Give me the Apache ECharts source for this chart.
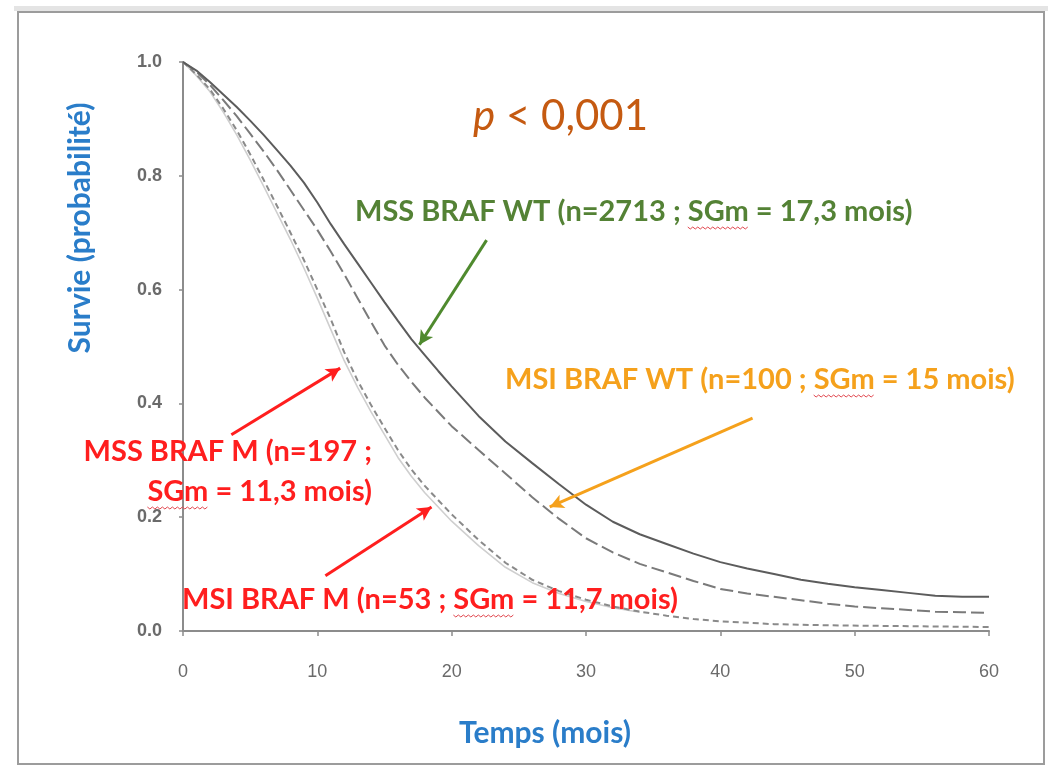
<!DOCTYPE html>
<html><head><meta charset="utf-8">
<script src="https://cdn.jsdelivr.net/npm/echarts@6/dist/echarts.min.js"></script>
<style>html,body{margin:0;padding:0;background:#fff}#c{width:1053px;height:769px}</style>
</head><body><div id="c"></div>
<script>
// ---- data ----
const xTicks = [0, 10, 20, 30, 40, 50, 60];
const yTicks = [0.0, 0.2, 0.4, 0.6, 0.8, 1.0];

const mssWtMonths = [0,1,2,3,4,5,6,7,8,9,10,11,12,13,14,15,16,17,18,19,20,22,24,26,28,30,32,34,36,38,40,42,44,46,48,50,52,54,56,58,60];
const mssWtSurv   = [1.0,0.985,0.965,0.943,0.921,0.897,0.872,0.845,0.818,0.788,0.753,0.715,0.68,0.646,0.612,0.578,0.545,0.513,0.485,0.457,0.43,0.378,0.333,0.295,0.258,0.222,0.192,0.17,0.153,0.136,0.121,0.11,0.1,0.09,0.083,0.077,0.072,0.067,0.062,0.06,0.06];

const msiWtMonths = [0,1,2,3,4,5,6,7,8,9,10,11,12,13,14,15,16,17,18,20,22,24,26,28,30,32,34,36,38,40,42,44,46,48,50,52,54,56,58,60];
const msiWtSurv   = [1.0,0.983,0.96,0.933,0.905,0.874,0.843,0.81,0.775,0.74,0.705,0.667,0.627,0.585,0.543,0.502,0.468,0.438,0.41,0.36,0.318,0.277,0.235,0.197,0.163,0.138,0.118,0.103,0.088,0.074,0.066,0.06,0.054,0.048,0.043,0.04,0.037,0.034,0.033,0.032];

const msiMMonths = [0,1,2,3,4,5,6,7,8,9,10,11,12,13,14,15,16,17,18,20,22,24,26,28,30,32,34,36,38,40,44,48,52,56,60];
const msiMSurv   = [1.0,0.978,0.952,0.918,0.88,0.838,0.793,0.747,0.7,0.652,0.6,0.548,0.49,0.44,0.397,0.357,0.318,0.284,0.255,0.205,0.16,0.12,0.09,0.07,0.055,0.043,0.034,0.027,0.021,0.017,0.012,0.01,0.009,0.008,0.007];

const mssMMonths = [0,1,2,3,4,5,6,7,8,9,10,11,12,13,14,15,16,17,18,20,22,24,26,28,30,32,34];
const mssMSurv   = [1.0,0.976,0.948,0.912,0.872,0.828,0.782,0.735,0.688,0.638,0.585,0.53,0.475,0.428,0.385,0.345,0.305,0.272,0.243,0.193,0.15,0.112,0.085,0.066,0.052,0.041,0.033];

// arrows: [fromMonth, fromSurv, toMonth, toSurv]
const arrowGreen  = [22.6, 0.687, 17.6, 0.503];
const arrowOrange = [42.4, 0.374, 27.3, 0.218];
const arrowRed1   = [3.6, 0.345, 11.7, 0.462];
const arrowRed2   = [10.6, 0.097, 18.5, 0.218];

const pair = (t, s) => t.map((v, i) => [v, s[i]]);

const chart = echarts.init(document.getElementById('c'));
const FONT = 'Lato';
const LABEL_FONT = 'bold 29px ' + FONT;
const arrowLine = (a, color) => ({
  silent: true,
  symbol: ['none', 'arrow'],
  symbolSize: [11, 14],
  label: { show: false },
  lineStyle: { color: color, width: 3, type: 'solid' },
  data: [[{ coord: [a[0], a[1]] }, { coord: [a[2], a[3]] }]]
});

// measure text to place the spell-check wavy underline under "SGm"
const mctx = document.createElement('canvas').getContext('2d');
mctx.font = LABEL_FONT;
const tw = s => mctx.measureText(s).width;
function wavy(text, x, y, align) {
  const start = align === 'right' ? x - tw(text) : x;
  const i = text.indexOf('SGm');
  const x0 = start + tw(text.slice(0, i));
  const x1 = x0 + tw('SGm');
  const pts = [];
  let k = 0;
  for (let px = x0; px <= x1; px += 2.5, k++) pts.push([px, y + 15 + (k % 2 ? 2 : 0)]);
  return { type: 'polyline', silent: true, z: 5, shape: { points: pts },
    style: { stroke: '#e2474f', lineWidth: 1, fill: null } };
}
function label(text, x, y, color, align) {
  return { type: 'text', x: x, y: y, silent: true, z: 6,
    style: { text: text, fill: color, font: LABEL_FONT, textAlign: align, textVerticalAlign: 'middle' } };
}

const T1 = 'MSS BRAF WT (n=2713 ; SGm = 17,3 mois)';
const T2 = 'MSI BRAF WT (n=100 ; SGm = 15 mois)';
const T3a = 'MSS BRAF M (n=197 ;';
const T3b = 'SGm = 11,3 mois)';
const T4 = 'MSI BRAF M (n=53 ; SGm = 11,7 mois)';

chart.setOption({
  animation: false,
  backgroundColor: '#fff',
  grid: { left: 183, right: 64, top: 62, bottom: 138 },
  xAxis: {
    type: 'value', min: 0, max: 60, interval: 10, offset: 12,
    axisLine: { show: true, lineStyle: { color: '#8c8c8c', width: 2 } },
    axisTick: { show: true, length: 5, lineStyle: { color: '#8c8c8c', width: 1.5 } },
    axisLabel: { margin: 20, color: '#6a6a6a', fontSize: 18, fontFamily: 'Liberation Sans',
      formatter: v => xTicks.includes(v) ? String(v) : '' },
    splitLine: { show: false }
  },
  yAxis: {
    type: 'value', min: 0, max: 1, interval: 0.2, offset: 11,
    axisLine: { show: true, lineStyle: { color: '#8c8c8c', width: 2 } },
    axisTick: { show: true, length: 4, lineStyle: { color: '#8c8c8c', width: 1.5 } },
    axisLabel: { margin: 10, color: '#6a6a6a', fontSize: 18, fontWeight: 'bold', fontFamily: 'Liberation Sans',
      formatter: v => { const t = yTicks.find(y => Math.abs(y - v) < 1e-6); return t === undefined ? '' : t.toFixed(1); } },
    splitLine: { show: false }
  },
  series: [
    { name: 'MSS BRAF M', type: 'line', data: pair(mssMMonths, mssMSurv), showSymbol: false,
      lineStyle: { color: '#cfcfcf', width: 1.6 }, z: 2,
      markLine: arrowLine(arrowRed1, '#ff1e1e') },
    { name: 'MSI BRAF M', type: 'line', data: pair(msiMMonths, msiMSurv), showSymbol: false,
      lineStyle: { color: '#8a8a8a', width: 2, type: [6, 4] }, z: 3,
      markLine: arrowLine(arrowRed2, '#ff1e1e') },
    { name: 'MSI BRAF WT', type: 'line', data: pair(msiWtMonths, msiWtSurv), showSymbol: false,
      lineStyle: { color: '#7a7a7a', width: 2, type: [13, 5] }, z: 3,
      markLine: arrowLine(arrowOrange, '#f5a11c') },
    { name: 'MSS BRAF WT', type: 'line', data: pair(mssWtMonths, mssWtSurv), showSymbol: false,
      lineStyle: { color: '#5c5c5c', width: 2 }, z: 4,
      markLine: arrowLine(arrowGreen, '#4f8a2e') }
  ],
  graphic: [
    { type: 'rect', shape: { x: 18, y: 12, width: 1026, height: 752 }, silent: true,
      style: { fill: 'none', stroke: '#9c9c9c', lineWidth: 2 }, z: -1 },
    { type: 'rect', shape: { x: 14, y: 6, width: 1034, height: 5 }, silent: true,
      style: { fill: '#e4e4e4' }, z: -2 },
    { type: 'text', x: 473, y: 116, silent: true,
      style: { text: '{i|p} < 0,001', fill: '#c55a11', font: '42px ' + FONT, textVerticalAlign: 'middle',
        rich: { i: { fontStyle: 'italic', fontSize: 42, fontFamily: FONT, fill: '#c55a11' } } } },
    label(T1, 355, 212, '#548235', 'left'), wavy(T1, 355, 212, 'left'),
    label(T2, 505, 380, '#f5a11c', 'left'), wavy(T2, 505, 380, 'left'),
    label(T3a, 372, 452, '#ff1e1e', 'right'),
    label(T3b, 372, 492, '#ff1e1e', 'right'), wavy(T3b, 372, 492, 'right'),
    label(T4, 182, 600, '#ff1e1e', 'left'), wavy(T4, 182, 600, 'left'),
    { type: 'text', x: 80, y: 228, rotation: Math.PI / 2, silent: true,
      style: { text: 'Survie (probabilité)', fill: '#2a7dc9', font: 'bold 30px ' + FONT,
        textAlign: 'center', textVerticalAlign: 'middle' } },
    { type: 'text', x: 545, y: 733, silent: true,
      style: { text: 'Temps (mois)', fill: '#2a7dc9', font: 'bold 30px ' + FONT,
        textAlign: 'center', textVerticalAlign: 'middle' } }
  ]
});
</script>
</body></html>
